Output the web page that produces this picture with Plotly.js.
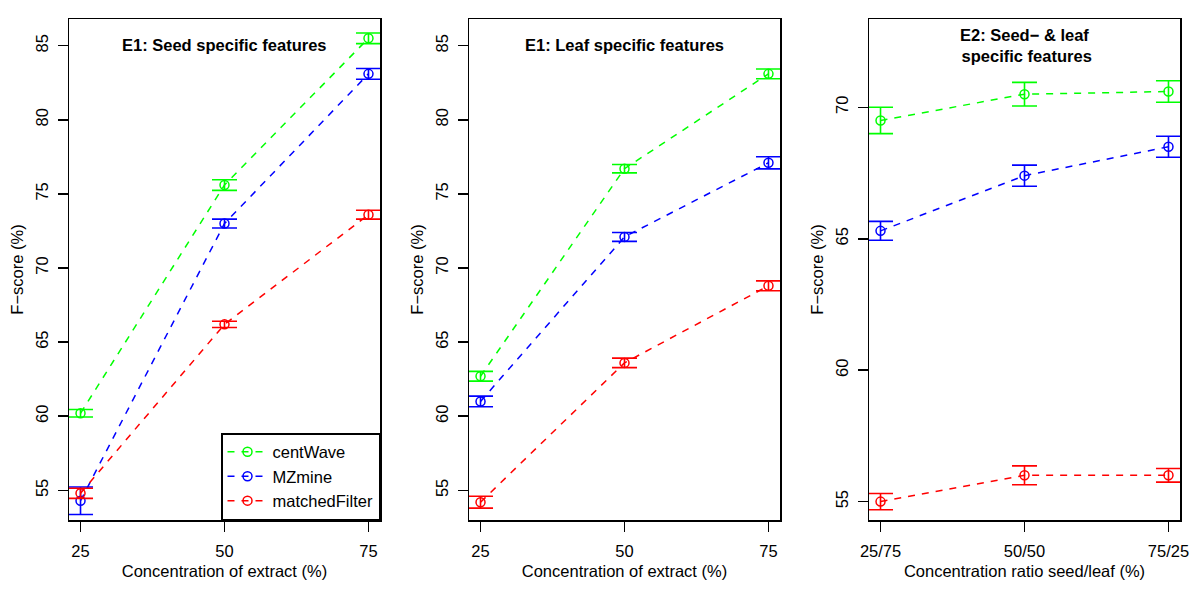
<!DOCTYPE html>
<html>
<head>
<meta charset="utf-8">
<script src="https://cdn.plot.ly/plotly-3.0.1.min.js"></script>
<style>html,body{margin:0;padding:0;background:#fff;}#chart{width:1200px;height:600px;}</style>
</head>
<body>
<div id="chart"></div>
<script>
// ---- data ----
const concentrations = [25, 50, 75];
const ratioLabels = ['25/75', '50/50', '75/25'];
const methods = ['centWave', 'MZmine', 'matchedFilter'];
const colors = ['#00ff00', '#0000ff', '#ff0000'];

// E1: seed specific features
const seedCentWave = [60.2, 75.6, 85.5];
const seedCentWaveErr = [0.25, 0.36, 0.36];
const seedMZmine = [54.3, 73.0, 83.1];
const seedMZmineErr = [0.93, 0.30, 0.36];
const seedMatchedFilter = [54.8, 66.2, 73.6];
const seedMatchedFilterErr = [0.34, 0.21, 0.30];

// E1: leaf specific features
const leafCentWave = [62.7, 76.7, 83.1];
const leafCentWaveErr = [0.33, 0.28, 0.33];
const leafMZmine = [61.0, 72.1, 77.1];
const leafMZmineErr = [0.36, 0.30, 0.41];
const leafMatchedFilter = [54.2, 63.6, 68.8];
const leafMatchedFilterErr = [0.40, 0.32, 0.33];

// E2: seed & leaf specific features
const mixCentWave = [69.5, 70.5, 70.6];
const mixCentWaveErr = [0.50, 0.45, 0.41];
const mixMZmine = [65.3, 67.4, 68.5];
const mixMZmineErr = [0.36, 0.40, 0.40];
const mixMatchedFilter = [55.0, 56.0, 56.0];
const mixMatchedFilterErr = [0.31, 0.36, 0.26];

const panelTitles = ['E1: Seed specific features', 'E1: Leaf specific features', 'E2: Seed\u2212 & leaf<br> specific features'];
const xTitles = ['Concentration of extract (%)', 'Concentration of extract (%)', 'Concentration ratio seed/leaf (%)'];
const yTitle = 'F\u2212score (%)';

// ---- build ----
const FONT = 'Liberation Sans, Arial, Helvetica, sans-serif';
const FS = 16.5;
const panels = [
  {x: concentrations, series: [[seedCentWave, seedCentWaveErr], [seedMZmine, seedMZmineErr], [seedMatchedFilter, seedMatchedFilterErr]]},
  {x: concentrations, series: [[leafCentWave, leafCentWaveErr], [leafMZmine, leafMZmineErr], [leafMatchedFilter, leafMatchedFilterErr]]},
  {x: ratioLabels, series: [[mixCentWave, mixCentWaveErr], [mixMZmine, mixMZmineErr], [mixMatchedFilter, mixMatchedFilterErr]]}
];

const traces = [];
panels.forEach((p, pi) => {
  const sfx = pi === 0 ? '' : String(pi + 1);
  p.series.forEach((s, si) => {
    traces.push({
      type: 'scatter', mode: 'lines+markers',
      x: p.x, y: s[0],
      xaxis: 'x' + sfx, yaxis: 'y' + sfx,
      name: methods[si],
      showlegend: pi === 0,
      line: {color: colors[si], width: 1.5, dash: '7px,7px'},
      marker: {symbol: 'circle-open', size: 9, color: colors[si], line: {width: 1.5, color: colors[si]}},
      error_y: {type: 'data', array: s[1], visible: true, color: colors[si], thickness: 1.6, width: 12.5},
      cliponaxis: true
    });
  });
});

const W = 1111; // plot area width
const doms = [[0, 311 / W], [400 / W, 711 / W], [800 / W, 1]];

function xax(i) {
  const base = {
    domain: doms[i], showgrid: false, zeroline: false,
    showline: true, mirror: true, linecolor: '#000', linewidth: 1.5,
    ticks: 'outside', ticklen: 10, tickwidth: 1.5, tickcolor: '#000',
    tickfont: {family: FONT, size: FS, color: '#000'},
    ticklabelstandoff: 6,
    title: {text: xTitles[i], font: {family: FONT, size: FS, color: '#000'}, standoff: 6},
    anchor: i === 0 ? 'y' : 'y' + (i + 1),
    fixedrange: true
  };
  if (i < 2) {
    base.range = [23, 77];
    base.tickvals = concentrations;
  } else {
    base.type = 'category';
    base.range = [-0.08, 2.08];
  }
  return base;
}
function yax(i, range, tickvals) {
  return {
    range: range, tickvals: tickvals, showgrid: false, zeroline: false,
    showline: true, mirror: true, linecolor: '#000', linewidth: 1.5,
    ticks: 'outside', ticklen: 10, tickwidth: 1.5, tickcolor: '#000',
    tickangle: -90,
    tickfont: {family: FONT, size: FS, color: '#000'},
    ticklabelstandoff: 3,
    title: {text: yTitle, font: {family: FONT, size: FS, color: '#000'}, standoff: 5},
    anchor: i === 0 ? 'x' : 'x' + (i + 1),
    fixedrange: true
  };
}

const annotations = panelTitles.map((t, i) => ({
  text: t, xref: (i === 0 ? 'x' : 'x' + (i + 1)) + ' domain', x: 0.5,
  yref: 'paper', y: 0.948, yanchor: 'middle', xanchor: 'center', align: 'center',
  showarrow: false,
  font: {family: FONT, size: FS, color: '#000', weight: 'bold'}
}));

const layout = {
  width: 1200, height: 600,
  margin: {l: 69, r: 20, t: 19, b: 80},
  paper_bgcolor: '#fff', plot_bgcolor: '#fff',
  font: {family: FONT, size: FS, color: '#000'},
  xaxis: xax(0), xaxis2: xax(1), xaxis3: xax(2),
  yaxis: yax(0, [53.0, 86.8], [55, 60, 65, 70, 75, 80, 85]),
  yaxis2: yax(1, [53.0, 86.8], [55, 60, 65, 70, 75, 80, 85]),
  yaxis3: yax(2, [54.3, 73.36], [55, 60, 65, 70]),
  annotations: annotations,
  showlegend: true,
  legend: {
    x: 311 / W, xanchor: 'right', y: 0, yanchor: 'bottom',
    bordercolor: '#000', borderwidth: 1.5, bgcolor: '#fff',
    font: {family: FONT, size: FS, color: '#000'},
    itemwidth: 40, tracegroupgap: 0
  }
};

Plotly.newPlot('chart', traces, layout, {staticPlot: true, displayModeBar: false});
</script>
</body>
</html>
